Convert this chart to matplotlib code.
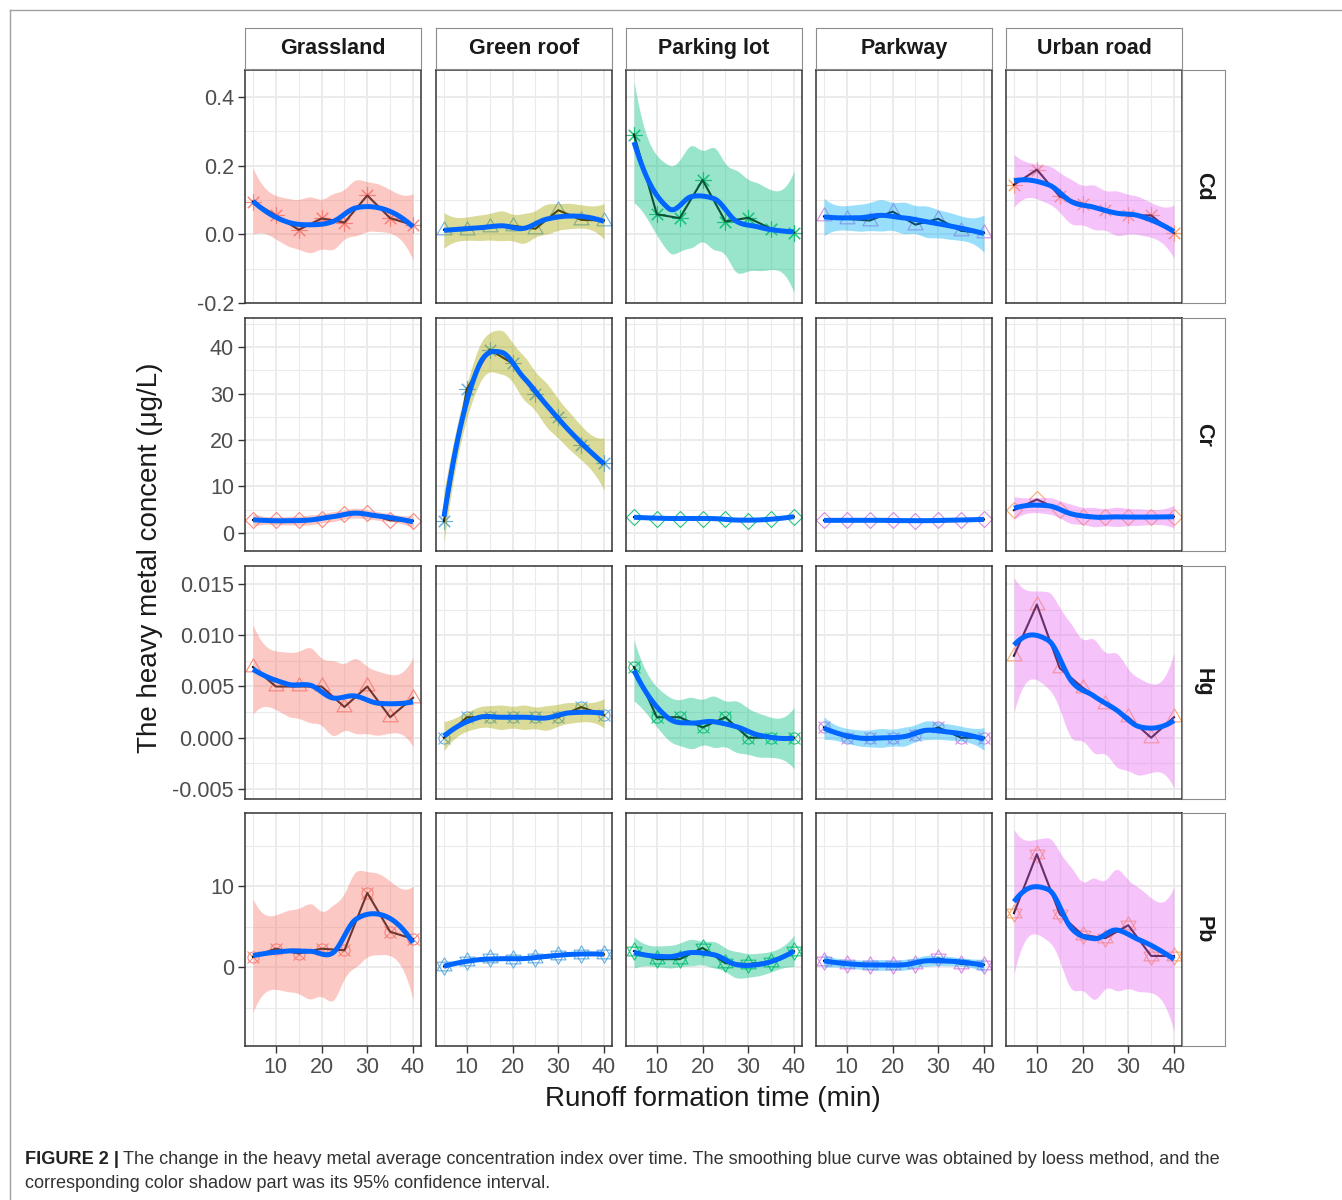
import math
import numpy as np
import matplotlib
matplotlib.use('Agg')
import matplotlib.pyplot as plt
from matplotlib.path import Path
from matplotlib.lines import Line2D

plt.rcParams['font.family'] = ['Liberation Sans', 'DejaVu Sans']
plt.rcParams['axes.unicode_minus'] = False

# DATA
time_min = [5, 10, 15, 20, 25, 30, 35, 40]
sites = ['Grassland', 'Green roof', 'Parking lot', 'Parkway', 'Urban road']
metals = ['Cd', 'Cr', 'Hg', 'Pb']

cd_grassland = [0.095, 0.055, 0.013, 0.046, 0.034, 0.113, 0.047, 0.027]
cd_green_roof = [0.013, 0.012, 0.022, 0.025, 0.016, 0.070, 0.042, 0.040]
cd_parking_lot = [0.290, 0.058, 0.047, 0.158, 0.037, 0.048, 0.016, 0.005]
cd_parkway = [0.052, 0.045, 0.040, 0.066, 0.028, 0.045, 0.010, 0.004]
cd_urban_road = [0.144, 0.188, 0.110, 0.088, 0.070, 0.055, 0.055, 0.003]

cr_grassland = [2.8, 2.7, 2.7, 3.0, 4.0, 4.2, 2.7, 2.6]
cr_green_roof = [2.5, 31.0, 39.5, 36.5, 30.0, 25.0, 19.0, 15.0]
cr_parking_lot = [3.4, 3.1, 3.1, 3.1, 3.0, 2.6, 3.0, 3.5]
cr_parkway = [2.7, 2.7, 2.7, 2.7, 2.6, 2.7, 2.8, 2.9]
cr_urban_road = [4.9, 7.2, 5.0, 3.5, 3.5, 3.4, 3.4, 3.5]

hg_grassland = [0.0069, 0.0050, 0.0050, 0.0050, 0.0030, 0.0050, 0.0020, 0.0039]
hg_green_roof = [0.0000, 0.0020, 0.0020, 0.0020, 0.0020, 0.0020, 0.0030, 0.0022]
hg_parking_lot = [0.0069, 0.0020, 0.0020, 0.0010, 0.0020, 0.0000, 0.0000, 0.0000]
hg_parkway = [0.0010, 0.0000, 0.0000, 0.0000, 0.0003, 0.0010, 0.0000, 0.0000]
hg_urban_road = [0.0080, 0.0130, 0.0068, 0.0049, 0.0033, 0.0020, 0.0000, 0.0020]

pb_grassland = [1.3, 2.3, 1.7, 2.3, 2.1, 9.2, 4.4, 3.5]
pb_green_roof = [0.1, 0.8, 1.1, 1.0, 1.2, 1.5, 1.7, 1.6]
pb_parking_lot = [2.0, 1.0, 1.0, 2.4, 0.5, 0.4, 0.7, 2.0]
pb_parkway = [0.8, 0.4, 0.3, 0.3, 0.4, 1.1, 0.4, 0.3]
pb_urban_road = [6.7, 14.0, 6.6, 4.0, 3.6, 5.2, 1.4, 1.4]

values = {
    'Cd': [cd_grassland, cd_green_roof, cd_parking_lot, cd_parkway, cd_urban_road],
    'Cr': [cr_grassland, cr_green_roof, cr_parking_lot, cr_parkway, cr_urban_road],
    'Hg': [hg_grassland, hg_green_roof, hg_parking_lot, hg_parkway, hg_urban_road],
    'Pb': [pb_grassland, pb_green_roof, pb_parking_lot, pb_parkway, pb_urban_road],
}

# marker shape per panel (row = metal, col = site)
shapes = {
    'Cd': ['ast', 'tri', 'ast', 'tri', 'ast'],
    'Cr': ['dia', 'ast', 'dia', 'dia', 'dia'],
    'Hg': ['tri', 'cx', 'cx', 'cx', 'tri'],
    'Pb': ['cx', 'david', 'david', 'david', 'david'],
}

band_colors = ['#F8766D', '#A3A500', '#00BF7D', '#00B0F6', '#E76BF3']
point_colors = ['#F8766D', '#4EA3DC', '#00BA6A', '#CF78E0', '#FB9A55']

# y axis per row
ylims = [(-0.2, 0.478), (-3.9, 46.3), (-0.00598, 0.01676), (-9.75, 19.1)]
ymajor = [[-0.2, 0.0, 0.2, 0.4], [0, 10, 20, 30, 40],
          [-0.005, 0.0, 0.005, 0.010, 0.015], [0, 10]]
yminor = [[-0.1, 0.1, 0.3], [5, 15, 25, 35, 45],
          [-0.0025, 0.0025, 0.0075, 0.0125], [-5, 5, 15]]
ylabels = [['-0.2', '0.0', '0.2', '0.4'], ['0', '10', '20', '30', '40'],
           ['-0.005', '0.000', '0.005', '0.010', '0.015'], ['0', '10']]


def t_quant975(df):
    c = math.gamma((df + 1) / 2) / (math.sqrt(df * math.pi) * math.gamma(df / 2))
    t = np.linspace(0, 80, 400001)
    pdf = c * (1 + t ** 2 / df) ** (-(df + 1) / 2)
    cdf = np.concatenate([[0], np.cumsum((pdf[1:] + pdf[:-1]) / 2 * np.diff(t))])
    return np.interp(0.475, cdf, t)


def kd_vertices(x):
    # 1-d version of loess' kd tree: box ends plus median cuts
    lo, hi = x.min(), x.max()
    mu = 0.005 * (hi - lo)
    verts = [lo - mu, hi + mu]

    def split(pts):
        if len(pts) <= 1:
            return
        m = len(pts) // 2
        verts.append((pts[m - 1] + pts[m]) / 2)
        split(pts[:m])
        split(pts[m:])

    split(np.sort(x))
    return np.array(sorted(verts))


def loess_band(x, y, xs, span=0.75):
    # local quadratic fit with tricube weights, interpolated like R's loess
    n = len(x)
    q = int(np.floor(n * span))

    def local(x0):
        d = np.abs(x - x0)
        h = np.sort(d)[q - 1]
        w = (1 - np.clip(d / h, 0, 1) ** 3) ** 3
        X = np.column_stack([np.ones(n), x - x0, (x - x0) ** 2])
        XtW = X.T * w
        B = np.linalg.solve(XtW @ X, XtW)
        return B[0], B[1]

    verts = kd_vertices(x)
    vrows = [local(v) for v in verts]

    def row(x0):
        k = min(np.searchsorted(verts, x0, side='right') - 1, len(verts) - 2)
        a, b = verts[k], verts[k + 1]
        dv = b - a
        t = (x0 - a) / dv
        h00 = 2 * t ** 3 - 3 * t ** 2 + 1
        h10 = t ** 3 - 2 * t ** 2 + t
        h01 = -2 * t ** 3 + 3 * t ** 2
        h11 = t ** 3 - t ** 2
        return (h00 * vrows[k][0] + h10 * dv * vrows[k][1]
                + h01 * vrows[k + 1][0] + h11 * dv * vrows[k + 1][1])

    L = np.array([row(v) for v in x])
    Ls = np.array([row(v) for v in xs])
    fit = Ls @ y
    res = y - L @ y
    IL = np.eye(n) - L
    M = IL.T @ IL
    d1 = np.trace(M)
    d2 = np.trace(M @ M)
    s = np.sqrt(res @ res / d1)
    se = s * np.sqrt((Ls ** 2).sum(1))
    t = t_quant975(d1 ** 2 / d2)
    return fit, fit - t * se, fit + t * se


tri_path = Path([(0, 1), (-0.866, -0.5), (0.866, -0.5), (0, 1)],
                [Path.MOVETO, Path.LINETO, Path.LINETO, Path.CLOSEPOLY])
david_path = Path([(0, 1), (-0.866, -0.5), (0.866, -0.5), (0, 1),
                   (0, -1), (-0.866, 0.5), (0.866, 0.5), (0, -1)],
                  [Path.MOVETO, Path.LINETO, Path.LINETO, Path.CLOSEPOLY] * 2)
dia_path = Path([(0, 1), (1, 0), (0, -1), (-1, 0), (0, 1)],
                [Path.MOVETO, Path.LINETO, Path.LINETO, Path.LINETO, Path.CLOSEPOLY])


def draw_points(ax, x, y, shape, col):
    kw = dict(ls='none', mfc='none', mec=col, mew=0.8, alpha=0.85, zorder=2)
    if shape == 'ast':
        ax.plot(x, y, marker=(8, 2, 0), ms=11.5, **kw)
    elif shape == 'tri':
        ax.plot(x, y, marker=tri_path, ms=12.5, **kw)
    elif shape == 'david':
        ax.plot(x, y, marker=david_path, ms=12.5, **kw)
    elif shape == 'dia':
        ax.plot(x, y, marker=dia_path, ms=11.5, **kw)
    elif shape == 'cx':
        ax.plot(x, y, marker='o', ms=8, **kw)
        ax.plot(x, y, marker='x', ms=8, **kw)


W, H = 1342, 1200
fig = plt.figure(figsize=(W / 100, H / 100), dpi=100)

col_left = [245, 436, 626, 816, 1006]
row_top = [70, 318, 566, 813]
pw, ph = 176, 233


def fig_rect(l, t, w, h):
    return [l / W, 1 - (t + h) / H, w / W, h / H]


x = np.array(time_min, dtype=float)
xs = np.linspace(5, 40, 80)

for r, metal in enumerate(metals):
    for c, site in enumerate(sites):
        ax = fig.add_axes(fig_rect(col_left[c], row_top[r], pw, ph))
        y = np.array(values[metal][c], dtype=float)
        fit, lo, hi = loess_band(x, y, xs)

        draw_points(ax, x, y, shapes[metal][c], point_colors[c])
        ax.plot(x, y, color='#140a0a', lw=1.5, zorder=3)
        ax.fill_between(xs, lo, hi, color=band_colors[c], alpha=0.4, lw=0, zorder=4)
        ax.plot(xs, fit, color='#0066FF', lw=3.6, zorder=5, solid_capstyle='butt')

        ax.set_xlim(3.25, 41.75)
        ax.set_ylim(*ylims[r])
        ax.set_xticks([10, 20, 30, 40])
        ax.set_xticks([5, 15, 25, 35], minor=True)
        ax.set_yticks(ymajor[r])
        ax.set_yticks(yminor[r], minor=True)
        ax.set_yticklabels(ylabels[r])
        ax.grid(which='major', color='#EBEBEB', lw=1.4, zorder=0)
        ax.grid(which='minor', color='#EBEBEB', lw=0.8, zorder=0)
        ax.set_axisbelow(True)
        ax.tick_params(which='minor', length=0)
        ax.tick_params(which='major', length=5, width=1, color='#333333',
                       labelsize=15.5, labelcolor='#4D4D4D', pad=3)
        if c > 0:
            ax.tick_params(left=False, labelleft=False)
        if r < 3:
            ax.tick_params(bottom=False, labelbottom=False)
        for sp in ax.spines.values():
            sp.set_color('#333333')
            sp.set_linewidth(1.1)

        if r == 0:
            sax = fig.add_axes(fig_rect(col_left[c], 28, pw, 41))
            sax.set_xticks([])
            sax.set_yticks([])
            for sp in sax.spines.values():
                sp.set_color('#8C8C8C')
            sax.text(0.5, 0.5, site, ha='center', va='center', fontsize=15.5,
                     fontweight='bold', color='#1A1A1A', transform=sax.transAxes)

    rax = fig.add_axes(fig_rect(1182, row_top[r], 43, ph))
    rax.set_xticks([])
    rax.set_yticks([])
    for sp in rax.spines.values():
        sp.set_color('#8C8C8C')
    rax.text(0.5, 0.5, metal, ha='center', va='center', fontsize=15.5,
             fontweight='bold', rotation=-90, color='#1A1A1A', transform=rax.transAxes)

fig.text(150 / W, 1 - 558 / H, 'The heavy metal concent (μg/L)', rotation=90,
         ha='center', va='center', fontsize=20, color='#1A1A1A')
fig.text(713 / W, 1 - 1099 / H, 'Runoff formation time (min)',
         ha='center', va='center', fontsize=20, color='#1A1A1A')

# caption
renderer = fig.canvas.get_renderer()
cap_size = 13.1
bold = fig.text(25 / W, 1 - 1160 / H, 'FIGURE 2 |', ha='left', va='center',
                fontsize=cap_size, fontweight='bold', color='#222222')
bb = bold.get_window_extent(renderer)
fig.text((bb.x1 + 4) / W, 1 - 1160 / H,
         'The change in the heavy metal average concentration index over time. '
         'The smoothing blue curve was obtained by loess method, and the',
         ha='left', va='center', fontsize=cap_size, color='#333333')
fig.text(25 / W, 1 - 1184 / H,
         'corresponding color shadow part was its 95% confidence interval.',
         ha='left', va='center', fontsize=cap_size, color='#333333')

# thin outer frame of the figure box
fig.add_artist(Line2D([10 / W, 10 / W], [0, 1 - 10 / H], transform=fig.transFigure,
                      color='#A0A0A0', lw=1))
fig.add_artist(Line2D([10 / W, 1], [1 - 10 / H, 1 - 10 / H], transform=fig.transFigure,
                      color='#A0A0A0', lw=1))

fig.savefig('out.png', dpi=100, facecolor='white')
